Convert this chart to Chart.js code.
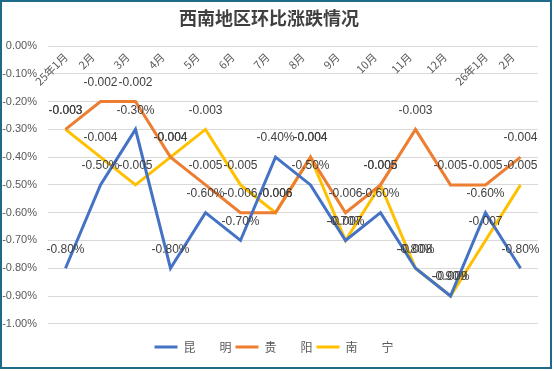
<!DOCTYPE html>
<html>
<head>
<meta charset="utf-8">
<title>西南地区环比涨跌情况</title>
<script src="https://cdn.jsdelivr.net/npm/chart.js@4.4.1/dist/chart.umd.min.js"></script>
<style>
  html, body { margin: 0; padding: 0; background: #fff; }
  #wrap { position: relative; width: 554px; height: 371px; }
  #frame { position: absolute; left: 0; top: 0; width: 552px; height: 369px; box-sizing: border-box; border: 2px solid #1d6a8a; pointer-events: none; }
</style>
</head>
<body>
<div id="wrap">
  <canvas id="chart" width="554" height="371"></canvas>
  <div id="frame"></div>
</div>
<script>
// 月份
const months = ['25年1月', '2月', '3月', '4月', '5月', '6月', '7月', '8月', '9月', '10月', '11月', '12月', '26年1月', '2月'];

// 环比涨跌（小数）
const kunming = [-0.008, -0.005, -0.003, -0.008, -0.006, -0.007, -0.004, -0.005, -0.007, -0.006, -0.008, -0.009, -0.006, -0.008];
const guiyang = [-0.003, -0.002, -0.002, -0.004, -0.005, -0.006, -0.006, -0.004, -0.006, -0.005, -0.003, -0.005, -0.005, -0.004];
const nanning = [-0.003, -0.004, -0.005, -0.004, -0.003, -0.005, -0.006, -0.004, -0.007, -0.005, -0.008, -0.009, -0.007, -0.005];

// 纵轴刻度
const yMin = -0.01;
const yMax = 0;
const yStep = 0.001;

const seriesNames = ['昆　　明', '贵　　阳', '南　　宁'];
const seriesColors = ['#4472C4', '#ED7D31', '#FFC000'];

// 昆明的标签是百分比，其余两个是小数
const labelFormats = [
    v => (v * 100).toFixed(2) + '%',
    v => v.toFixed(3),
    v => v.toFixed(3)
];

const numFont = '"Liberation Sans", Arial, sans-serif';
const cjkFont = '"Noto Sans CJK SC", "Liberation Sans", sans-serif';

// 数据标签（点上方）
const dataLabels = {
    id: 'dataLabels',
    afterDatasetsDraw(chart) {
        const ctx = chart.ctx;
        ctx.save();
        ctx.font = '12px ' + numFont;
        ctx.fillStyle = '#404040';
        ctx.textAlign = 'center';
        ctx.textBaseline = 'middle';
        chart.data.datasets.forEach((ds, i) => {
            const meta = chart.getDatasetMeta(i);
            meta.data.forEach((pt, j) => {
                ctx.fillText(labelFormats[i](ds.data[j]), pt.x, pt.y - 19);
            });
        });
        ctx.restore();
    }
};

// 横轴标签：在0线下方斜45度，和Excel一样
const monthLabels = {
    id: 'monthLabels',
    beforeDatasetsDraw(chart) {
        const xs = chart.scales.x;
        const axisY = chart.scales.y.getPixelForValue(0);
        const ctx = chart.ctx;
        ctx.save();
        ctx.font = '11px ' + cjkFont;
        ctx.fillStyle = '#595959';
        ctx.textAlign = 'center';
        ctx.textBaseline = 'middle';
        chart.data.labels.forEach((label, i) => {
            const w = ctx.measureText(label).width;
            const half = (w + 11) * Math.SQRT1_2 / 2;
            ctx.save();
            ctx.translate(xs.getPixelForTick(i) - 14, axisY + 5 + half);
            ctx.rotate(-Math.PI / 4);
            ctx.fillText(label, 0, 0);
            ctx.restore();
        });
        ctx.restore();
    }
};

// 图例稍微往右挪一点
const legendShift = {
    id: 'legendShift',
    afterLayout(chart) {
        chart.legend.left += 5;
        chart.legend.right += 5;
    }
};

const ctx = document.getElementById('chart').getContext('2d');
new Chart(ctx, {
    type: 'line',
    data: {
        labels: months,
        datasets: [kunming, guiyang, nanning].map((values, i) => ({
            label: seriesNames[i],
            data: values,
            borderColor: seriesColors[i],
            backgroundColor: seriesColors[i],
            borderWidth: 3,
            pointRadius: 0,
            tension: 0,
            fill: false
        }))
    },
    options: {
        responsive: false,
        animation: false,
        layout: {
            padding: { left: 0, right: 16, top: 0, bottom: 8 }
        },
        plugins: {
            title: {
                display: true,
                text: '西南地区环比涨跌情况',
                color: '#404040',
                font: { size: 18, weight: 'bold', family: cjkFont },
                padding: { top: 7, bottom: 17.4 }
            },
            legend: {
                position: 'bottom',
                title: {
                    display: true,
                    text: '',
                    font: { size: 1 },
                    padding: { top: 12, bottom: 0 }
                },
                labels: {
                    boxWidth: 23,
                    boxHeight: 3,
                    padding: 4,
                    color: '#595959',
                    font: { size: 12, family: cjkFont },
                    generateLabels: chart => Chart.defaults.plugins.legend.labels.generateLabels(chart)
                        .map(l => Object.assign(l, { lineWidth: 0 }))
                }
            },
            tooltip: { enabled: false }
        },
        scales: {
            x: {
                position: { y: 0 },
                offset: true,
                grid: { display: false },
                border: { display: false },
                ticks: { display: false }
            },
            y: {
                min: yMin,
                max: yMax,
                afterFit: function(scale) {
                    scale.width = 48;
                },
                grid: { color: '#d9d9d9', drawTicks: false },
                border: { display: false },
                ticks: {
                    stepSize: yStep,
                    padding: 11,
                    color: '#595959',
                    font: { size: 11, family: numFont },
                    callback: function(value) {
                        return (value * 100).toFixed(2) + '%';
                    }
                }
            }
        }
    },
    plugins: [monthLabels, dataLabels, legendShift]
});
</script>
</body>
</html>
